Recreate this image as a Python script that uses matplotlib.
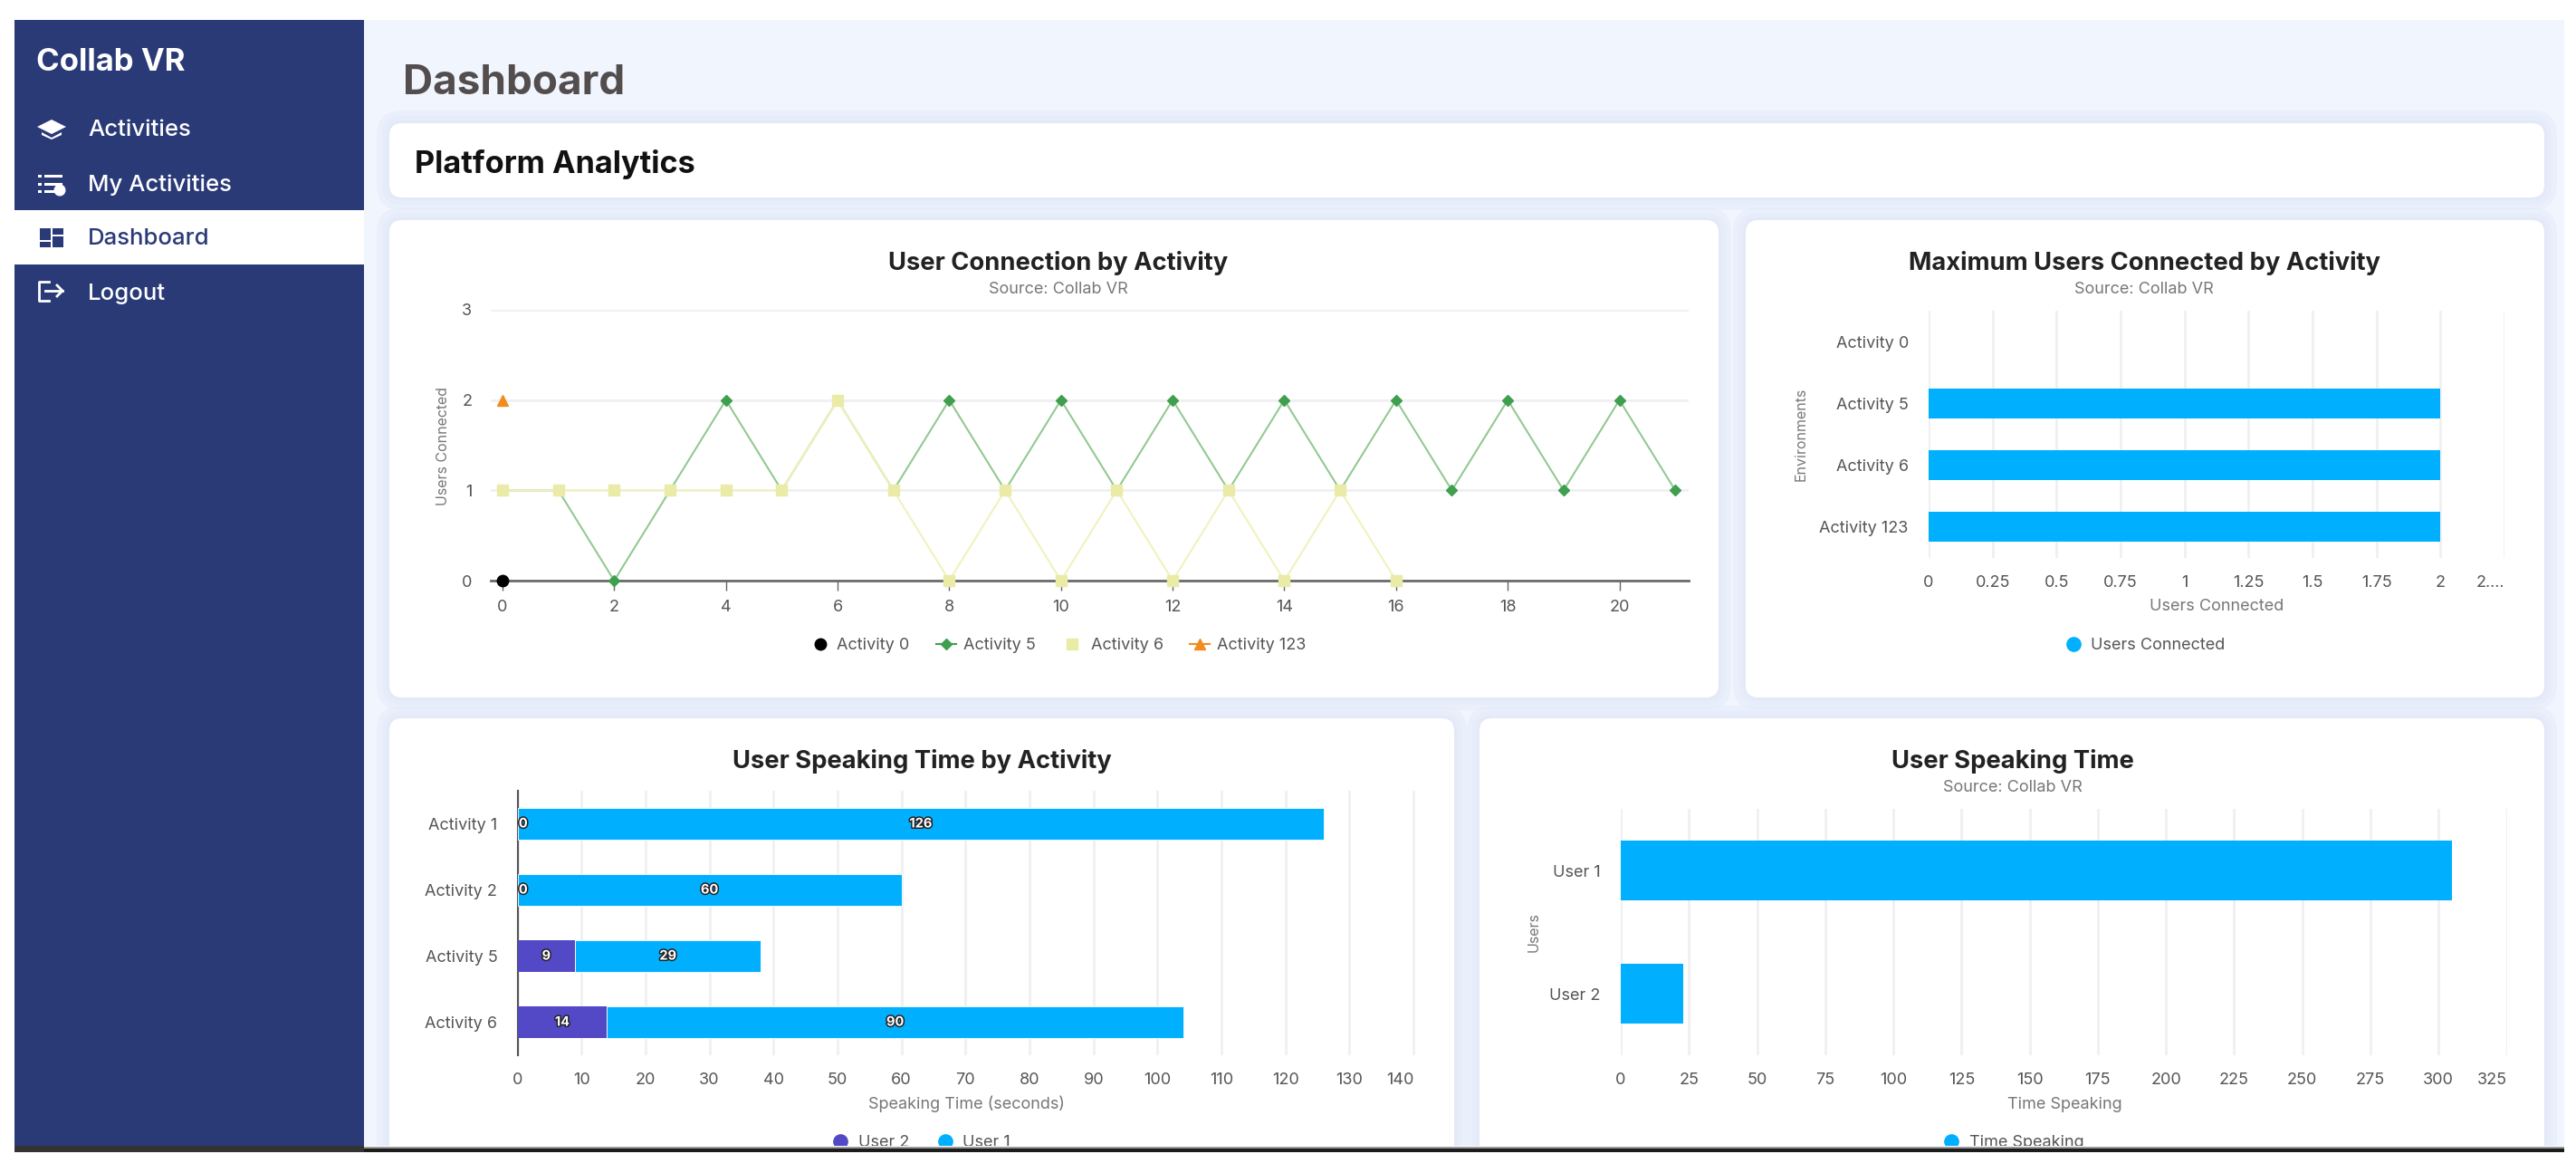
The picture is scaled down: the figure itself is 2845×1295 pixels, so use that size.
import matplotlib
matplotlib.use("Agg")
import matplotlib.pyplot as plt
import matplotlib.patheffects as pe
from matplotlib.patches import FancyBboxPatch, Rectangle, Polygon, Circle

plt.rcParams['font.family'] = ['Inter', 'DejaVu Sans']

W, H = 2845, 1295

# data
menu_items = ["Activities", "My Activities", "Dashboard", "Logout"]

conn_x = list(range(22))
activity_0 = [0]
activity_5 = [1, 1, 0, 1, 2, 1, 2, 1, 2, 1, 2, 1, 2, 1, 2, 1, 2, 1, 2, 1, 2, 1]
activity_6 = [1, 1, 1, 1, 1, 1, 2, 1, 0, 1, 0, 1, 0, 1, 0, 1, 0]
activity_123 = [2]

max_names = ["Activity 0", "Activity 5", "Activity 6", "Activity 123"]
max_users = [0, 2, 2, 2]
max_ticks = [0, 0.25, 0.5, 0.75, 1, 1.25, 1.5, 1.75, 2, 2.25]
max_tick_labels = ["0", "0.25", "0.5", "0.75", "1", "1.25", "1.5", "1.75", "2", "2...."]

speak_names = ["Activity 1", "Activity 2", "Activity 5", "Activity 6"]
user2_time = [0, 0, 9, 14]
user1_time = [126, 60, 29, 90]

users = ["User 1", "User 2"]
time_speaking = [305, 23]

NAVY = "#2a3a77"
BLUE = "#00b0ff"
PURPLE = "#5349c6"
GREEN = "#3f9f4f"
GREEN_L = "#93c993"
YELLOW = "#e9eba6"
YELLOW_L = "#f1f2bd"
ORANGE = "#f28c1c"
GRID = "#f0f0f2"
TICK = "#555555"
LABEL = "#777777"

fig = plt.figure(figsize=(W / 100, H / 100), dpi=100, facecolor="white")

bg = fig.add_axes([0, 0, 1, 1], zorder=0)
bg.set_xlim(0, W)
bg.set_ylim(H, 0)
bg.axis('off')

top = fig.add_axes([0, 0, 1, 1], zorder=10)
top.set_xlim(0, W)
top.set_ylim(H, 0)
top.axis('off')


def card(x0, y0, x1, y1, r=14):
    for grow, alpha in [(14, 0.3), (8, 0.35), (3, 0.4)]:
        bg.add_patch(FancyBboxPatch((x0 - grow, y0 - grow), x1 - x0 + 2 * grow, y1 - y0 + 2 * grow,
                                    boxstyle=f"round,pad=0,rounding_size={r + grow}",
                                    fc="#dfe6f6", ec="none", alpha=alpha))
    bg.add_patch(FancyBboxPatch((x0, y0), x1 - x0, y1 - y0,
                                boxstyle=f"round,pad=0,rounding_size={r}", fc="white", ec="none"))


def make_axes(x0, y0, x1, y1):
    ax = fig.add_axes([x0 / W, 1 - y1 / H, (x1 - x0) / W, (y1 - y0) / H], zorder=5)
    ax.patch.set_visible(False)
    for s in ax.spines.values():
        s.set_visible(False)
    return ax


def heading(cx, title, y, source_y=None):
    bg.text(cx, y + 2, title, ha='center', va='center', fontsize=19.7, fontweight='bold', color="#222222")
    if source_y:
        bg.text(cx, source_y + 1, "Source: Collab VR", ha='center', va='center', fontsize=13, color="#777777")


def legend_mark(x, y, color, text, marker='o', ms=11, line=False, tx=None):
    if line:
        bg.plot([x - 11, x + 11], [y, y], color=color, lw=1.5)
    bg.plot([x], [y], marker=marker, ms=ms, color=color, ls='none')
    bg.text(tx, y + 1.5, text, ha='left', va='center', fontsize=13, color="#555555")


# page background and sidebar
bg.add_patch(Rectangle((16, 22), 2816, 1244, fc="#f0f5fe", ec="none"))
bg.add_patch(Rectangle((16, 22), 386, 1244, fc=NAVY, ec="none"))
bg.add_patch(Rectangle((16, 232), 386, 60, fc="white", ec="none"))
bg.text(40, 69, "Collab VR", fontsize=25, fontweight='bold', color="white", va='center')
for name, y in zip(menu_items, [144, 204, 264, 324]):
    col = NAVY if name == "Dashboard" else "white"
    bg.text(97, y, name, fontsize=18.5, fontweight='medium', color=col, va='center')

# sidebar icons
bg.add_patch(Polygon([(41, 140), (57, 132), (73, 140), (57, 148)], fc="white"))
bg.add_patch(Polygon([(46, 146), (57, 152), (68, 146), (68, 149), (57, 154), (46, 149)], fc="white"))
for y in [194, 203, 211]:
    bg.add_patch(Rectangle((42, y - 1.5), 4, 3, fc="white"))
    bg.add_patch(Rectangle((49, y - 1.5), 20 if y < 205 else 12, 3, fc="white"))
bg.add_patch(Circle((66, 210), 6.5, fc="white"))
bg.add_patch(Rectangle((44, 252), 12, 13, fc=NAVY))
bg.add_patch(Rectangle((58, 252), 12, 7, fc=NAVY))
bg.add_patch(Rectangle((44, 267), 12, 6, fc=NAVY))
bg.add_patch(Rectangle((58, 261), 12, 12, fc=NAVY))
bg.plot([54, 43, 43, 54], [311, 311, 332, 332], color="white", lw=2)
bg.plot([50, 69], [321, 321], color="white", lw=2)
bg.plot([63, 69, 63], [315, 321, 327], color="white", lw=2)

# header
bg.text(445, 92, "Dashboard", fontsize=33, fontweight='bold', color="#544d4d", va='center')
card(430, 136, 2810, 218)
bg.text(458, 181, "Platform Analytics", fontsize=24.7, fontweight='bold', color="#111111", va='center')

card(430, 243, 1898, 770)
card(1928, 243, 2810, 770)
card(430, 793, 1606, 1300)
card(1634, 793, 2810, 1300)

# User Connection by Activity
ax1 = make_axes(542, 342, 1865, 641)
ax1.set_xlim(-0.21, 21.24)
ax1.set_ylim(0, 3)
ax1.set_yticks([0, 1, 2, 3])
ax1.grid(axis='y', color=GRID, lw=2)
ax1.set_axisbelow(True)
ax1.spines['bottom'].set_visible(True)
ax1.spines['bottom'].set_color("#6a6a6a")
ax1.spines['bottom'].set_linewidth(2)
ax1.set_xticks(range(0, 21, 2))
ax1.tick_params(axis='x', length=8, width=1, color="#666666", labelsize=13, labelcolor=TICK, pad=7)
ax1.tick_params(axis='y', length=0, labelsize=13, labelcolor=TICK, pad=15)
ax1.plot(conn_x[:len(activity_5)], activity_5, color=GREEN_L, lw=1.5, marker='D', ms=6,
         mfc=GREEN, mec=GREEN, clip_on=False, zorder=3)
ax1.plot(conn_x[:len(activity_6)], activity_6, color=YELLOW_L, lw=1.5, marker='s', ms=9,
         mfc=YELLOW, mec=YELLOW, clip_on=False, zorder=4)
ax1.plot(conn_x[:len(activity_0)], activity_0, ls='none', marker='o', ms=9, color="black", clip_on=False, zorder=5)
ax1.plot(conn_x[:len(activity_123)], activity_123, ls='none', marker='^', ms=9, color=ORANGE, clip_on=False, zorder=5)
heading(1169, "User Connection by Activity", 288, 318)
bg.text(489, 492, "Users Connected", rotation=90, ha='center', va='center', fontsize=11.5, color=LABEL)
legend_mark(906, 711, "black", "Activity 0", tx=924, ms=9)
legend_mark(1045, 711, GREEN, "Activity 5", marker='D', ms=6, line=True, tx=1064)
legend_mark(1184, 711, YELLOW, "Activity 6", marker='s', ms=9, tx=1205)
legend_mark(1325, 711, ORANGE, "Activity 123", marker='^', ms=9, line=True, tx=1344)

# Maximum Users Connected by Activity
ax2 = make_axes(2130, 343, 2766, 616)
ax2.barh(max_names, max_users, height=0.48, color=BLUE, zorder=3)
ax2.set_xlim(0, 2.25)
ax2.set_ylim(3.5, -0.5)
ax2.set_xticks(max_ticks)
ax2.set_xticklabels(max_tick_labels)
ax2.get_xticklabels()[-1].set_ha('right')
ax2.grid(axis='x', color=GRID, lw=2)
ax2.set_axisbelow(True)
ax2.tick_params(axis='x', length=0, labelsize=13, labelcolor=TICK, pad=14)
ax2.tick_params(axis='y', length=0, labelsize=13, labelcolor=TICK, pad=16)
heading(2368, "Maximum Users Connected by Activity", 288, 318)
bg.text(2448, 669, "Users Connected", ha='center', va='center', fontsize=13, color=LABEL)
bg.text(1989, 479, "Environments", rotation=90, ha='center', va='center', fontsize=11.5, color=LABEL)
legend_mark(2290, 711, BLUE, "Users Connected", tx=2309)

# User Speaking Time by Activity
ax3 = make_axes(571.5, 873, 1564, 1165)
ax3.barh(speak_names, user2_time, height=0.48, color=PURPLE, zorder=3)
ax3.barh(speak_names, user1_time, height=0.48, left=user2_time, color=BLUE, ec="white", lw=0.6, zorder=3)
ax3.set_xlim(0, 140.4)
ax3.set_ylim(3.5, -0.5)
ax3.set_xticks(range(0, 141, 10))
ax3.get_xticklabels()[-1].set_ha('right')
ax3.grid(axis='x', color=GRID, lw=2)
ax3.set_axisbelow(True)
ax3.spines['left'].set_visible(True)
ax3.spines['left'].set_color("#555555")
ax3.spines['left'].set_linewidth(1.5)
ax3.tick_params(axis='x', length=0, labelsize=13, labelcolor=TICK, pad=14)
ax3.tick_params(axis='y', length=0, labelsize=13, labelcolor=TICK, pad=16)
outline = [pe.withStroke(linewidth=2.2, foreground="#222222")]
for i in range(len(speak_names)):
    for left, val in [(0, user2_time[i]), (user2_time[i], user1_time[i])]:
        off = 4.5 if val == 0 else 0
        ax3.annotate(str(val), (left + val / 2, i), xytext=(off, 0), textcoords='offset points',
                     ha='center', va='center', fontsize=10.5, fontweight='bold',
                     color="white", path_effects=outline, zorder=6)
heading(1018, "User Speaking Time by Activity", 838)
bg.text(1067, 1219, "Speaking Time (seconds)", ha='center', va='center', fontsize=13, color=LABEL)
legend_mark(928, 1260, PURPLE, "User 2", tx=948)
legend_mark(1044, 1260, BLUE, "User 1", tx=1063)

# User Speaking Time
ax4 = make_axes(1790, 893, 2768.5, 1165)
ax4.barh(users, time_speaking, height=0.485, color=BLUE, zorder=3)
ax4.set_xlim(0, 325)
ax4.set_ylim(1.5, -0.5)
ax4.set_xticks(range(0, 326, 25))
ax4.get_xticklabels()[-1].set_ha('right')
ax4.grid(axis='x', color=GRID, lw=2)
ax4.set_axisbelow(True)
ax4.tick_params(axis='x', length=0, labelsize=13, labelcolor=TICK, pad=14)
ax4.tick_params(axis='y', length=0, labelsize=13, labelcolor=TICK, pad=16)
heading(2223, "User Speaking Time", 838, 868)
bg.text(2280, 1219, "Time Speaking", ha='center', va='center', fontsize=13, color=LABEL)
bg.text(1694, 1029, "Users", rotation=90, ha='center', va='center', fontsize=11.5, color=LABEL)
legend_mark(2155, 1260, BLUE, "Time Speaking", tx=2175)

# the screenshot is cut off at the bottom
top.add_patch(Rectangle((0, 1265), W, 40, fc="white", ec="none"))
top.add_patch(Rectangle((402, 1265.5), 2430, 2.5, fc="#9a9a9a", ec="none"))
top.add_patch(Rectangle((402, 1268), 2430, 4, fc="#1c1c1c", ec="none"))
top.add_patch(Rectangle((16, 1265), 386, 7, fc="#333333", ec="none"))

fig.savefig("out.png", dpi=100)
